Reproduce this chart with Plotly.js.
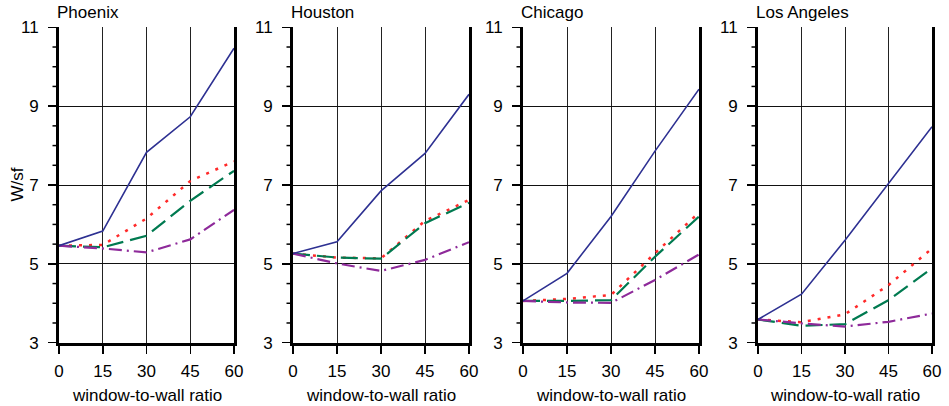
<!DOCTYPE html>
<html>
<head>
<meta charset="utf-8">
<script src="https://cdn.plot.ly/plotly-3.0.1.min.js"></script>
<style>html,body{margin:0;padding:0;background:#fff;}#chart{width:949px;height:406px;}</style>
</head>
<body>
<div id="chart"></div>
<script>
const cities = ["Phoenix", "Houston", "Chicago", "Los Angeles"];
const wwr = [0, 15, 30, 45, 60];
const xTicks = [0, 15, 30, 45, 60];
const yTicks = [3, 5, 7, 9, 11];
const yMinorTicks = [3.5, 4, 4.5, 5.5, 6, 6.5, 7.5, 8, 8.5, 9.5, 10, 10.5];

// W/sf values per city, per series
const solidBlue = [
  [5.46, 5.83, 7.83, 8.73, 10.47],
  [5.26, 5.56, 6.85, 7.80, 9.30],
  [4.06, 4.76, 6.20, 7.86, 9.43],
  [3.59, 4.23, 5.60, 7.03, 8.48]
];
const dottedRed = [
  [5.46, 5.48, 6.15, 7.10, 7.60],
  [5.26, 5.16, 5.14, 6.09, 6.62],
  [4.06, 4.11, 4.21, 5.27, 6.30],
  [3.59, 3.52, 3.72, 4.46, 5.39]
];
const dashedGreen = [
  [5.46, 5.42, 5.71, 6.60, 7.36],
  [5.26, 5.16, 5.13, 6.03, 6.55],
  [4.06, 4.06, 4.08, 5.18, 6.20],
  [3.59, 3.43, 3.47, 4.08, 4.89]
];
const dashDotPurple = [
  [5.46, 5.39, 5.29, 5.62, 6.37],
  [5.26, 5.01, 4.82, 5.10, 5.55],
  [4.06, 4.02, 4.01, 4.59, 5.24],
  [3.59, 3.49, 3.41, 3.53, 3.74]
];

const seriesDefs = [
  {vals: dottedRed, color: "#FF2A2A", dash: "3px,7px", width: 2.5},
  {vals: dashedGreen, color: "#007A50", dash: "17px,7px", width: 2.2},
  {vals: dashDotPurple, color: "#8E2A9A", dash: "13px,5px,2px,5px", width: 2.2},
  {vals: solidBlue, color: "#2E3192", dash: "solid", width: 1.6}
];

const W = 949, H = 406;
const xDomains = [[59/W, 234/W], [293/W, 469/W], [523/W, 699/W], [758/W, 932/W]];
const yDomain = [1 - 342.7/H, 1 - 27.3/H];
const yRange = [3, 11];
const FONT = "Liberation Sans, Arial, sans-serif";
const FS = 17;

const traces = [];
const layout = {
  width: W, height: H,
  margin: {l: 0, r: 0, t: 0, b: 0},
  paper_bgcolor: "#fff", plot_bgcolor: "#fff",
  showlegend: false,
  font: {family: FONT, size: FS, color: "#000"},
  annotations: [], shapes: []
};

cities.forEach((city, i) => {
  const n = i === 0 ? "" : String(i + 1);
  seriesDefs.forEach(s => {
    traces.push({
      x: wwr, y: s.vals[i], type: "scatter", mode: "lines",
      xaxis: "x" + n, yaxis: "y" + n,
      line: {color: s.color, dash: s.dash, width: s.width},
      hoverinfo: "skip"
    });
  });
  layout["xaxis" + n] = {
    domain: xDomains[i], range: [0, 60], anchor: "y" + n,
    tickmode: "array", tickvals: xTicks, ticktext: xTicks.map(String),
    ticks: "outside", ticklen: 8, tickwidth: 1.5, tickcolor: "#000",
    ticklabelstandoff: 3,
    showgrid: true, gridcolor: "#222", gridwidth: 1,
    showline: true, linecolor: "#000", linewidth: 3, mirror: false,
    zeroline: false, fixedrange: true,
    tickfont: {family: FONT, size: FS, color: "#000"},
    title: {text: ""}
  };
  layout["yaxis" + n] = {
    domain: yDomain, range: yRange, anchor: "x" + n,
    tickmode: "array", tickvals: yTicks, ticktext: yTicks.map(String),
    ticks: "outside", ticklen: 8, tickwidth: 1.5, tickcolor: "#000",
    showgrid: true, gridcolor: "#111", gridwidth: 1,
    showline: true, linecolor: "#000", linewidth: 3, mirror: true,
    zeroline: false, fixedrange: true,
    ticklabelstandoff: 6,
    tickfont: {family: FONT, size: FS, color: "#000"},
    title: {text: ""}
  };
  // minor tick marks on the left axis (paper coordinates from the axis domain/range)
  yMinorTicks.forEach(v => {
    const yp = yDomain[0] + (v - yRange[0]) / (yRange[1] - yRange[0]) * (yDomain[1] - yDomain[0]);
    layout.shapes.push({
      type: "line", xref: "paper", yref: "paper",
      x0: xDomains[i][0] - 6.5/W, x1: xDomains[i][0], y0: yp, y1: yp,
      line: {color: "#000", width: 1.5}, layer: "above"
    });
  });
  layout.annotations.push({
    text: city, xref: "paper", yref: "paper",
    x: xDomains[i][0] - 4/W, y: 1 - 12.5/H, xanchor: "left", yanchor: "middle",
    showarrow: false, font: {family: FONT, size: FS, color: "#000"}
  });
  layout.annotations.push({
    text: "window-to-wall ratio", xref: "paper", yref: "paper",
    x: (xDomains[i][0] + xDomains[i][1]) / 2, y: 1 - 395/H, xanchor: "center", yanchor: "middle",
    showarrow: false, font: {family: FONT, size: FS, color: "#000"}
  });
});

layout.annotations.push({
  text: "W/sf", xref: "paper", yref: "paper", textangle: -90,
  x: 17.5/W, y: (yDomain[0] + yDomain[1]) / 2, xanchor: "center", yanchor: "middle",
  showarrow: false, font: {family: FONT, size: FS, color: "#000"}
});

Plotly.newPlot("chart", traces, layout, {staticPlot: true, displayModeBar: false});
</script>
</body>
</html>
